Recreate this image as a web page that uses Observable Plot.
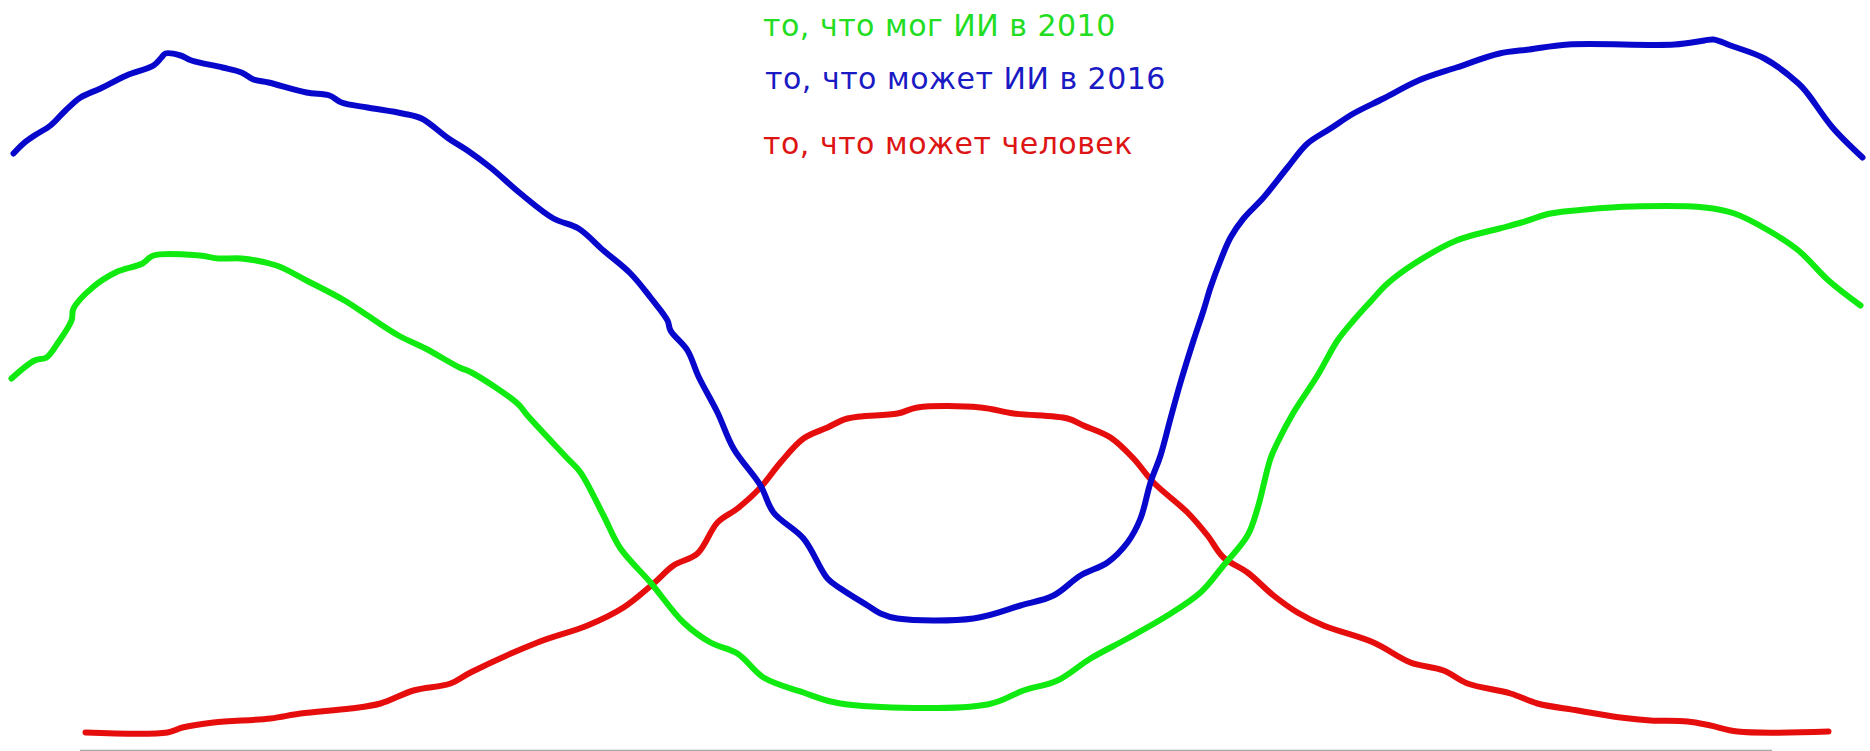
<!DOCTYPE html>
<html>
<head>
<meta charset="utf-8">
<script src="https://cdn.jsdelivr.net/npm/d3@7"></script>
<script src="https://cdn.jsdelivr.net/npm/@observablehq/plot@0.6"></script>
<style>
  html, body { margin: 0; padding: 0; background: #fff; }
  #wrap { position: relative; width: 1870px; height: 751px; overflow: hidden; }
  .lab { position: absolute; font-family: "DejaVu Sans", Verdana, sans-serif; font-size: 30px; letter-spacing: 0.5px; white-space: nowrap; line-height: 1; }
</style>
</head>
<body>
<div id="wrap"></div>
<script>
// Task axis position (x) and capability level (y)
const ai2010 = [[11,372],[34,390],[46,393],[57,407],[71,430],[73,442],[92,463],[115,478],[142,487],[153,495],[199,495],[218,492],[241,492],[276,485],[306,470],[344,450],[367,435],[398,415],[425,402],[459,383],[471,378],[517,347],[527,335],[567,292],[580,278],[603,235],[620,202],[650,168],[683,128],[710,108],[737,97],[763,73],[803,58],[840,47],[987,46],[1023,60],[1057,70],[1090,92],[1127,112],[1167,135],[1200,158],[1223,185],[1247,215],[1257,242],[1270,292],[1277,308],[1293,338],[1317,375],[1337,410],[1353,430],[1371,450],[1387,467],[1414,487],[1456,510],[1499,522],[1521,528],[1550,537],[1585,541],[1632,544],[1704,543],[1734,537],[1768,520],[1798,500],[1828,470],[1860,445]];

const ai2016 = [[13,597],[23,607],[34,615],[50,625],[65,640],[80,653],[100,662],[126,675],[153,685],[161,693],[165,697],[180,695],[191,690],[222,683],[241,678],[253,671],[268,668],[306,658],[329,655],[341,648],[367,643],[402,637],[421,632],[448,612],[467,600],[490,583],[520,557],[553,532],[578,522],[603,500],[630,477],[650,453],[667,430],[670,420],[687,400],[698,374],[717,338],[733,302],[760,265],[773,238],[803,212],[827,172],[840,162],[867,145],[880,137],[897,132],[973,132],[1020,145],[1053,155],[1080,175],[1107,188],[1127,208],[1140,232],[1150,268],[1160,295],[1170,332],[1180,368],[1193,410],[1203,440],[1210,463],[1220,490],[1230,513],[1243,532],[1263,553],[1287,583],[1307,607],[1330,622],[1353,637],[1383,652],[1418,670],[1456,683],[1499,697],[1529,701],[1568,706],[1674,706],[1704,710],[1713,711],[1730,705],[1764,692],[1798,667],[1807,657],[1832,623],[1862,593]];

const human = [[85,18],[167,18],[182,23],[213,28],[270,32],[300,37],[350,42],[380,47],[413,60],[450,67],[470,78],[537,108],[587,125],[623,143],[653,167],[673,185],[697,197],[717,228],[737,242],[760,263],[780,288],[803,312],[827,323],[847,332],[897,337],[917,343],[980,343],[1013,337],[1067,332],[1083,325],[1110,313],[1133,292],[1153,268],[1187,238],[1207,215],[1223,193],[1247,178],[1273,155],[1297,138],[1323,125],[1373,108],[1410,88],[1443,80],[1467,67],[1510,57],[1537,47],[1577,40],[1620,33],[1650,30],[1687,29],[1710,25],[1737,19],[1828,19]];

const labels = ["то, что мог ИИ в 2010", "то, что может ИИ в 2016", "то, что может человек"];
const xDomain = [80, 1772];
const yDomain = [0, 750];

const lineStyle = {strokeWidth: 6, strokeLinecap: "round", strokeLinejoin: "round", curve: "catmull-rom"};

const chart = Plot.plot({
  width: 1870,
  height: 751,
  marginLeft: 80,
  marginRight: 98,
  marginTop: 0,
  marginBottom: 1,
  x: {domain: xDomain, axis: null},
  y: {domain: yDomain, axis: null},
  style: {background: "transparent", overflow: "visible"},
  marks: [
    Plot.ruleY([0], {stroke: "#a8a8a8", strokeWidth: 1.5}),
    Plot.line(human, {x: d => d[0], y: d => d[1], stroke: "#e60d0d", ...lineStyle}),
    Plot.line(ai2010, {x: d => d[0], y: d => d[1], stroke: "#10ea10", ...lineStyle}),
    Plot.line(ai2016, {x: d => d[0], y: d => d[1], stroke: "#0808cc", ...lineStyle})
  ]
});

const wrap = document.getElementById("wrap");
wrap.appendChild(chart);

const labColors = ["#22dd22", "#1a1ac4", "#dd1414"];
const labPos = [{left: 763, top: 11}, {left: 765, top: 64}, {left: 763, top: 129}];
labels.forEach((t, i) => {
  const div = document.createElement("div");
  div.className = "lab";
  div.textContent = t;
  div.style.color = labColors[i];
  div.style.left = labPos[i].left + "px";
  div.style.top = labPos[i].top + "px";
  wrap.appendChild(div);
});
</script>
</body>
</html>
